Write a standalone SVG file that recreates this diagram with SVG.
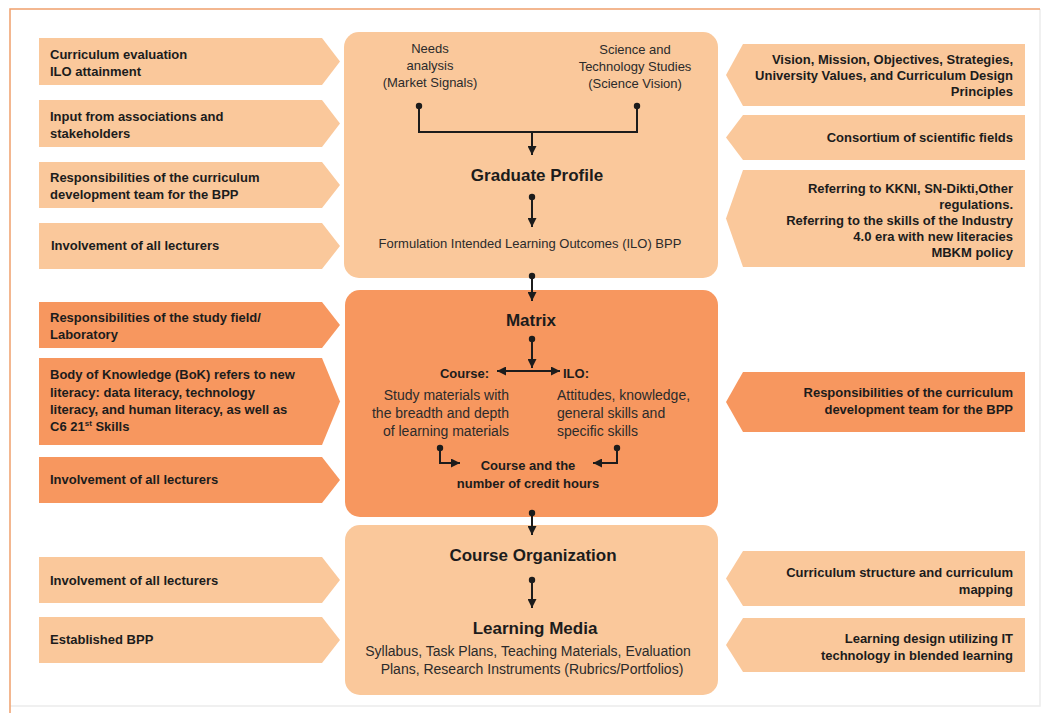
<svg xmlns="http://www.w3.org/2000/svg" width="1049" height="713" viewBox="0 0 1049 713">
<defs>
<style>
.lt{fill:#FAC89B}
.dk{fill:#F7975F}
.cb{fill:#FAC89B}
.t{font-family:"Liberation Sans",Arial,sans-serif;font-size:13px;font-weight:bold;fill:#1c1c1c}
.r{font-family:"Liberation Sans",Arial,sans-serif;font-size:13px;fill:#2b2b2b}
.r14{font-size:14px}
.h{font-family:"Liberation Sans",Arial,sans-serif;font-size:17px;font-weight:bold;fill:#1c1c1c;text-anchor:middle}
.e{text-anchor:end}
.m{text-anchor:middle}
.c{stroke:#1c1c1c;stroke-width:2;fill:none}
.d{fill:#1c1c1c}
</style>
<marker id="ah" viewBox="0 0 9 9" refX="9" refY="4.5" markerWidth="9" markerHeight="9" markerUnits="userSpaceOnUse" orient="auto-start-reverse">
<path d="M0,0 L9,4.5 L0,9 z" fill="#1c1c1c"/>
</marker>
</defs>
<rect width="1049" height="713" fill="#ffffff"/>
<path d="M1040,9 V706 H10" fill="none" stroke="#ececec" stroke-width="1.5"/>
<path d="M10,713 V9 H1040" fill="none" stroke="#F0A06C" stroke-width="1.5"/>

<!-- Left side boxes -->
<g id="left-1"><polygon class="lt" points="39,38 322,38 340,61.5 322,85 39,85"/>
<text class="t" x="50" y="59">Curriculum evaluation</text><text class="t" x="50" y="76">ILO attainment</text></g>
<g id="left-2"><polygon class="lt" points="39,100 322,100 340,123.5 322,147 39,147"/>
<text class="t" x="50" y="121">Input from associations and</text><text class="t" x="50" y="138">stakeholders</text></g>
<g id="left-3"><polygon class="lt" points="39,162 322,162 340,185 322,208 39,208"/>
<text class="t" x="50" y="182">Responsibilities of the curriculum</text><text class="t" x="50" y="199">development team for the BPP</text></g>
<g id="left-4"><polygon class="lt" points="39,223 322,223 340,246 322,269 39,269"/>
<text class="t" x="51" y="250">Involvement of all lecturers</text></g>
<g id="left-5"><polygon class="dk" points="39,302 322,302 340,325 322,348 39,348"/>
<text class="t" x="50" y="322">Responsibilities of the study field/</text><text class="t" x="50" y="339">Laboratory</text></g>
<g id="left-6"><polygon class="dk" points="39,358 322,358 340,401.5 322,445 39,445"/>
<text class="t" x="50" y="379">Body of Knowledge (BoK) refers to new</text>
<text class="t" x="50" y="397">literacy: data literacy, technology</text>
<text class="t" x="50" y="414">literacy, and human literacy, as well as</text>
<text class="t" x="50" y="431">C6 21<tspan font-size="8" dy="-5">st</tspan><tspan dy="5"> Skills</tspan></text></g>
<g id="left-7"><polygon class="dk" points="39,457 322,457 340,480 322,503 39,503"/>
<text class="t" x="50" y="484">Involvement of all lecturers</text></g>
<g id="left-8"><polygon class="lt" points="39,557 322,557 340,580 322,603 39,603"/>
<text class="t" x="50" y="585">Involvement of all lecturers</text></g>
<g id="left-9"><polygon class="lt" points="39,617 322,617 340,640 322,663 39,663"/>
<text class="t" x="50" y="644">Established BPP</text></g>

<!-- Right side boxes -->
<g id="right-1"><polygon class="lt" points="1025,44 1025,106 743,106 726,75 743,44"/>
<text class="t e" x="1013" y="64">Vision, Mission, Objectives, Strategies,</text>
<text class="t e" x="1013" y="80">University Values, and Curriculum Design</text>
<text class="t e" x="1013" y="96">Principles</text></g>
<g id="right-2"><polygon class="lt" points="1025,115 1025,160 743,160 726,137.5 743,115"/>
<text class="t e" x="1013" y="142">Consortium of scientific fields</text></g>
<g id="right-3"><polygon class="lt" points="1025,170 1025,267 743,267 726,218.5 743,170"/>
<text class="t e" x="1013" y="193">Referring to KKNI, SN-Dikti,Other</text>
<text class="t e" x="1013" y="209">regulations.</text>
<text class="t e" x="1013" y="225">Referring to the skills of the Industry</text>
<text class="t e" x="1013" y="241">4.0 era with new literacies</text>
<text class="t e" x="1013" y="257">MBKM policy</text></g>
<g id="right-4"><polygon class="dk" points="1025,372 1025,432 743,432 726,402 743,372"/>
<text class="t e" x="1013" y="397">Responsibilities of the curriculum</text>
<text class="t e" x="1013" y="414">development team for the BPP</text></g>
<g id="right-5"><polygon class="lt" points="1025,551 1025,606 743,606 726,578.5 743,551"/>
<text class="t e" x="1013" y="577">Curriculum structure and curriculum</text>
<text class="t e" x="1013" y="594">mapping</text></g>
<g id="right-6"><polygon class="lt" points="1025,618 1025,672 743,672 726,645 743,618"/>
<text class="t e" x="1013" y="643">Learning design utilizing IT</text>
<text class="t e" x="1013" y="660">technology in blended learning</text></g>

<!-- Central boxes -->
<g id="graduate-profile">
<rect class="cb" x="344" y="32" width="374" height="246" rx="15"/>
<text class="r m" x="430" y="53">Needs</text>
<text class="r m" x="430" y="70">analysis</text>
<text class="r m" x="430" y="87">(Market Signals)</text>
<text class="r m" x="635" y="54">Science and</text>
<text class="r m" x="635" y="71">Technology Studies</text>
<text class="r m" x="635" y="88">(Science Vision)</text>
<text class="h" x="537" y="181">Graduate Profile</text>
<text class="r m" x="530" y="248" font-size="12.5">Formulation Intended Learning Outcomes (ILO) BPP</text>
</g>
<g id="matrix">
<rect class="dk" x="345" y="290" width="373" height="227" rx="15"/>
<text class="h" x="531" y="326">Matrix</text>
<text class="t e" x="489" y="378">Course:</text>
<text class="t" x="563" y="378">ILO:</text>
<text class="r r14 e" x="509" y="400">Study materials with</text>
<text class="r r14 e" x="509" y="418">the breadth and depth</text>
<text class="r r14 e" x="509" y="436">of learning materials</text>
<text class="r r14" x="557" y="400">Attitudes, knowledge,</text>
<text class="r r14" x="557" y="418">general skills and</text>
<text class="r r14" x="557" y="436">specific skills</text>
<text class="t m" x="528" y="470">Course and the</text>
<text class="t m" x="528" y="488">number of credit hours</text>
</g>
<g id="course-organization">
<rect class="cb" x="345" y="525" width="373" height="170" rx="15"/>
<text class="h" x="533" y="561">Course Organization</text>
<text class="h" x="535" y="634">Learning Media</text>
<text class="r r14 m" x="528" y="656">Syllabus, Task Plans, Teaching Materials, Evaluation</text>
<text class="r r14 m" x="532" y="674">Plans, Research Instruments (Rubrics/Portfolios)</text>
</g>

<!-- Connectors -->
<g id="connectors">
<path class="c" d="M419,106 V132 H637 V106"/>
<circle class="d" cx="419" cy="106" r="3.2"/>
<circle class="d" cx="637" cy="106" r="3.2"/>
<path class="c" d="M532,132 V155" marker-end="url(#ah)"/>
<circle class="d" cx="532" cy="197" r="3.2"/>
<path class="c" d="M532,197 V227" marker-end="url(#ah)"/>
<circle class="d" cx="532" cy="276" r="3.2"/>
<path class="c" d="M532,276 V301" marker-end="url(#ah)"/>
<circle class="d" cx="532" cy="339" r="3.2"/>
<path class="c" d="M532,339 V368" marker-end="url(#ah)"/>
<path class="c" d="M497,371 H560" marker-start="url(#ah)" marker-end="url(#ah)"/>
<circle class="d" cx="440" cy="448" r="3.2"/>
<path class="c" d="M440,448 V463 H460" marker-end="url(#ah)"/>
<circle class="d" cx="617" cy="448" r="3.2"/>
<path class="c" d="M617,448 V463 H593" marker-end="url(#ah)"/>
<circle class="d" cx="532" cy="513" r="3.2"/>
<path class="c" d="M532,513 V535" marker-end="url(#ah)"/>
<circle class="d" cx="532" cy="580" r="3.2"/>
<path class="c" d="M532,580 V608" marker-end="url(#ah)"/>
</g>
</svg>
